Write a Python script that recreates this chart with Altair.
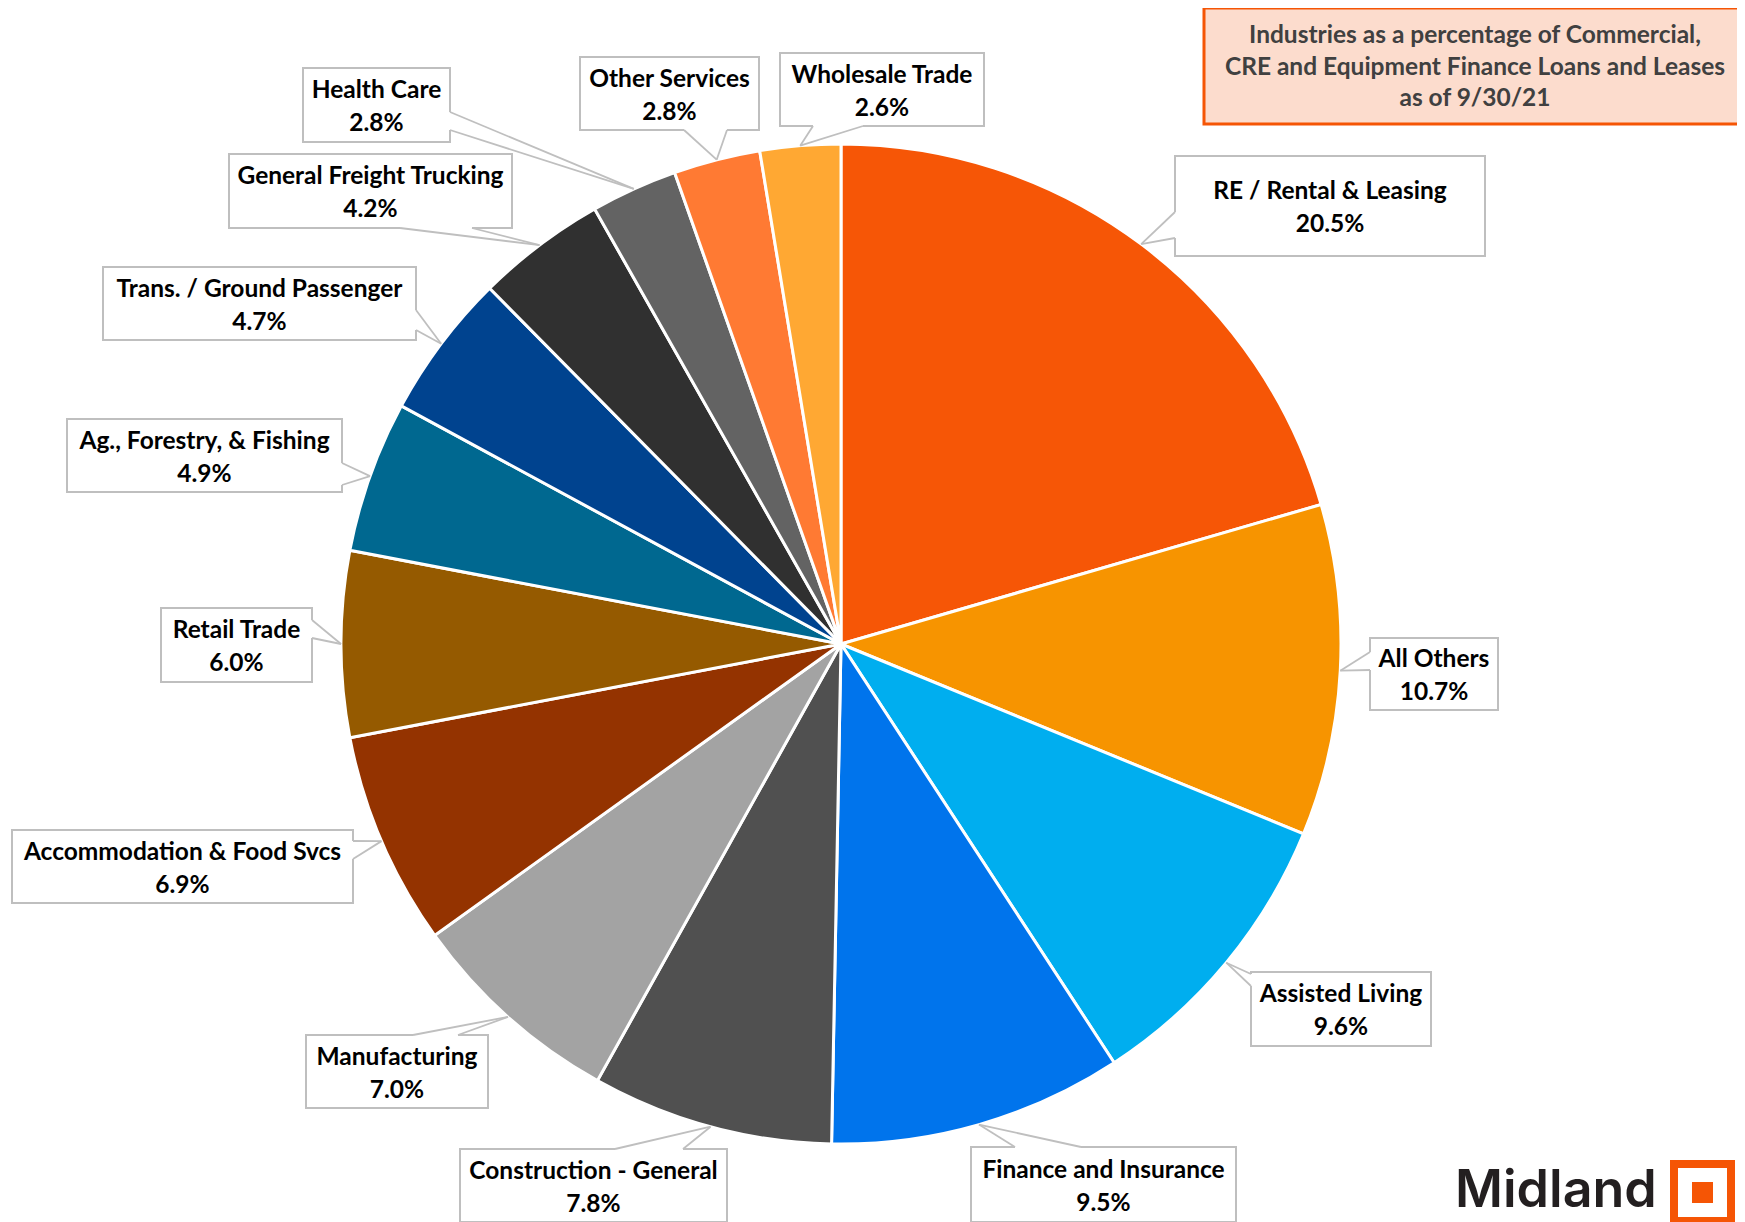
import altair as alt
import pandas as pd

# ---------------- data ----------------
names = ["RE / Rental & Leasing", "All Others", "Assisted Living", "Finance and Insurance",
         "Construction - General", "Manufacturing", "Accommodation & Food Svcs", "Retail Trade",
         "Ag., Forestry, & Fishing", "Trans. / Ground Passenger", "General Freight Trucking",
         "Health Care", "Other Services", "Wholesale Trade"]
values = [20.5, 10.7, 9.6, 9.5, 7.8, 7.0, 6.9, 6.0, 4.9, 4.7, 4.2, 2.8, 2.8, 2.6]
colors = ["#F65606", "#F79400", "#00AEEF", "#0074EC", "#505050", "#A3A3A3", "#943300",
          "#955A00", "#006890", "#00438F", "#303030", "#636363", "#FF7A33", "#FFA833"]
title_lines = ["Industries as a percentage of Commercial,",
               "CRE and Equipment Finance Loans and Leases",
               "as of 9/30/21"]
brand = "Midland"

# ---------------- layout (page pixels) ----------------
W, H = 1729, 1214
CX, CY, R = 841, 644, 500
box_x0 = [1175, 1370, 1251, 971, 460, 306, 12, 161, 67, 103, 229, 303, 580, 780]
box_x1 = [1485, 1498, 1431, 1236, 727, 488, 353, 312, 342, 416, 512, 450, 759, 984]
box_y0 = [156, 638, 972, 1147, 1149, 1035, 830, 608, 419, 267, 154, 68, 57, 53]
box_y1 = [256, 710, 1046, 1222, 1222, 1108, 903, 682, 492, 340, 228, 142, 130, 126]
b1x = [1175, 1370, 1251, 1015, 615, 413, 353, 312, 342, 416, 400, 450, 684, 813]
b1y = [212, 652, 974, 1147, 1149, 1035, 841, 620, 463, 310, 228, 112, 130, 126]
b2x = [1175, 1370, 1251, 1081, 683, 458, 353, 312, 342, 416, 472, 450, 727, 863]
b2y = [238, 670, 986, 1147, 1149, 1035, 859, 638, 485, 330, 228, 130, 130, 126]

df = pd.DataFrame({
    "idx": list(range(len(names))), "name": names, "value": values,
    "x0": box_x0, "x1": box_x1, "y0": box_y0, "y1": box_y1,
    "b1x": b1x, "b1y": b1y, "b2x": b2x, "b2y": b2y,
})

xs = alt.Scale(domain=[8, 8 + W], nice=False, zero=False)
ys = alt.Scale(domain=[8, 8 + H], nice=False, zero=False, reverse=True)
color_scale = alt.Scale(domain=names, range=colors)

base = alt.Chart(df)

pie = base.mark_arc(radius=R, stroke="white", strokeWidth=3).encode(
    theta=alt.Theta("value:Q", stack=True),
    order=alt.Order("idx:Q", sort="ascending"),
    color=alt.Color("name:N", scale=color_scale, legend=None),
    x=alt.value(CX - 8), y=alt.value(CY - 8),
)

tips = base.transform_window(
    cum="sum(value)", sort=[alt.SortField("idx")], frame=[None, 0]
).transform_joinaggregate(total="sum(value)").transform_calculate(
    ang="(datum.cum - datum.value/2) / datum.total * 2 * PI",
).transform_calculate(
    tx=f"{CX} + {R} * sin(datum.ang)",
    ty=f"{CY} - {R} * cos(datum.ang)",
)

boxes = base.mark_rect(fill="white", stroke="#BFBFBF", strokeWidth=2).encode(
    x=alt.X("x0:Q", scale=xs, axis=None), x2="x1:Q",
    y=alt.Y("y0:Q", scale=ys, axis=None), y2="y1:Q",
)
gaps = base.mark_rule(color="white", strokeWidth=3).encode(
    x=alt.X("b1x:Q", scale=xs, axis=None), y=alt.Y("b1y:Q", scale=ys, axis=None),
    x2="b2x:Q", y2="b2y:Q",
)
lead1 = tips.mark_rule(color="#BFBFBF", strokeWidth=1.8).encode(
    x=alt.X("b1x:Q", scale=xs, axis=None), y=alt.Y("b1y:Q", scale=ys, axis=None),
    x2="tx:Q", y2="ty:Q",
)
lead2 = tips.mark_rule(color="#BFBFBF", strokeWidth=1.8).encode(
    x=alt.X("b2x:Q", scale=xs, axis=None), y=alt.Y("b2y:Q", scale=ys, axis=None),
    x2="tx:Q", y2="ty:Q",
)
labels = base.transform_calculate(
    label="datum.name + '\\n' + format(datum.value, '.1f') + '%'",
    lx="(datum.x0 + datum.x1) / 2",
    ly="(datum.y0 + datum.y1) / 2 - 7",
).mark_text(font="Lato", fontWeight="bold", fontSize=24.5, lineHeight=33,
            align="center", baseline="alphabetic", lineBreak="\n", color="#000000").encode(
    x=alt.X("lx:Q", scale=xs, axis=None), y=alt.Y("ly:Q", scale=ys, axis=None),
    text="label:N",
)

# title box
tdf = pd.DataFrame({"x0": [1204], "x1": [1760], "y0": [8], "y1": [124],
                    "tx": [1475], "ty": [43], "text": ["\n".join(title_lines)]})
tbox = alt.Chart(tdf).mark_rect(fill="#FCDCCD", stroke="#F55505", strokeWidth=3).encode(
    x=alt.X("x0:Q", scale=xs, axis=None), x2="x1:Q",
    y=alt.Y("y0:Q", scale=ys, axis=None), y2="y1:Q",
)
ttext = alt.Chart(tdf).mark_text(font="Lato", fontWeight="bold", fontSize=24.5, lineHeight=31.5,
                                 align="center", baseline="alphabetic", lineBreak="\n",
                                 color="#404040").encode(
    x=alt.X("tx:Q", scale=xs, axis=None), y=alt.Y("ty:Q", scale=ys, axis=None), text="text:N",
)

# logo
ldf = pd.DataFrame({"x0": [1670, 1678, 1692], "x1": [1735, 1727, 1713],
                    "y0": [1160, 1168, 1182], "y1": [1226, 1217, 1203],
                    "c": ["#F55505", "#FFFFFF", "#F55505"]})
logo = alt.Chart(ldf).mark_rect().encode(
    x=alt.X("x0:Q", scale=xs, axis=None), x2="x1:Q",
    y=alt.Y("y0:Q", scale=ys, axis=None), y2="y1:Q",
    color=alt.Color("c:N", scale=None),
)
bdf = pd.DataFrame({"x": [1455], "y": [1207], "t": [brand]})
btext = alt.Chart(bdf).mark_text(font="Inter", fontWeight=600, fontSize=52, align="left",
                                 baseline="alphabetic", color="#231F20").encode(
    x=alt.X("x:Q", scale=xs, axis=None), y=alt.Y("y:Q", scale=ys, axis=None), text="t:N",
)

chart = alt.layer(pie, tbox, ttext, boxes, gaps, lead1, lead2, labels, logo, btext).properties(
    width=W, height=H, padding=0, autosize=alt.AutoSizeParams(type="none"),
    background="white",
).configure_view(stroke=None)

chart.save("out.html", embed_options={"renderer": "svg", "actions": False})
